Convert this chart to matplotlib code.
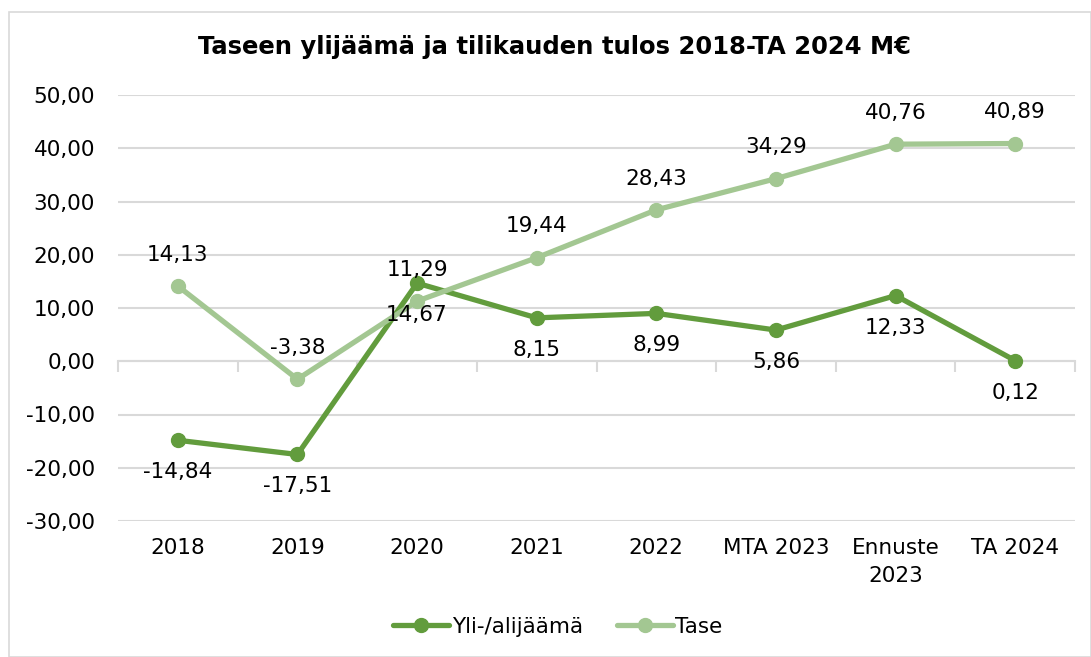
import matplotlib
matplotlib.use("Agg")
import matplotlib.pyplot as plt
import matplotlib.transforms as mtransforms
from matplotlib.patches import Rectangle

kategoriat = ["2018", "2019", "2020", "2021", "2022", "MTA 2023", "Ennuste\n2023", "TA 2024"]
yli_alijaama = [-14.84, -17.51, 14.67, 8.15, 8.99, 5.86, 12.33, 0.12]
tase = [14.13, -3.38, 11.29, 19.44, 28.43, 34.29, 40.76, 40.89]
y_ticks = [-30, -20, -10, 0, 10, 20, 30, 40, 50]

TUMMA = "#629C3D"
VAALEA = "#A3C792"
HARMAA = "#D9D9D9"
FS = 15.5


def fi(v):
    return f"{v:.2f}".replace(".", ",")


W, H = 1091, 657
fig = plt.figure(figsize=(W / 100, H / 100), dpi=100)
fig.patches.append(Rectangle((9 / W, 0), 1 - 9 / W, 1 - 12 / H, transform=fig.transFigure,
                             fill=False, edgecolor=HARMAA, linewidth=1.2))

ax = fig.add_axes([118 / W, 1 - 521 / H, (1075 - 118) / W, (521 - 95) / H])
x = list(range(len(kategoriat)))

ax.set_xlim(-0.5, len(kategoriat) - 0.5)
ax.set_ylim(-30, 50)
ax.set_yticks(y_ticks)
ax.set_yticklabels([fi(v) for v in y_ticks], fontsize=FS, color="#000000")
ax.tick_params(axis="y", length=0, pad=16.5)
ax.grid(axis="y", color=HARMAA, linewidth=1.5, zorder=0)
for s in ["top", "right", "left"]:
    ax.spines[s].set_visible(False)
ax.spines["bottom"].set_position(("data", 0))
ax.spines["bottom"].set_color(HARMAA)
ax.spines["bottom"].set_linewidth(1.5)
ax.set_xticks([i - 0.5 for i in range(len(kategoriat) + 1)])
ax.set_xticklabels([])
ax.tick_params(axis="x", length=8, width=1.5, color=HARMAA, direction="out")

trans = mtransforms.blended_transform_factory(ax.transData, ax.transAxes)
for i, k in enumerate(kategoriat):
    ax.text(i, -0.040, k, transform=trans, ha="center", va="top", fontsize=FS,
            color="#000000", linespacing=1.5)

ax.plot(x, yli_alijaama, color=TUMMA, linewidth=3.8, marker="o", markersize=10,
        solid_capstyle="round", label="Yli-/alijäämä", zorder=3)
ax.plot(x, tase, color=VAALEA, linewidth=3.8, marker="o", markersize=10,
        solid_capstyle="round", label="Tase", zorder=3)

for i, v in enumerate(yli_alijaama):
    ax.annotate(fi(v), (i, v), xytext=(0, -23), textcoords="offset points",
                ha="center", va="center", fontsize=FS, color="#000000", zorder=5)
for i, v in enumerate(tase):
    ax.annotate(fi(v), (i, v), xytext=(0, 22.5), textcoords="offset points",
                ha="center", va="center", fontsize=FS, color="#000000", zorder=5)

fig.text(555 / W, 1 - 47 / H, "Taseen ylijäämä ja tilikauden tulos 2018-TA 2024 M€",
         ha="center", va="center", fontsize=17.5, fontweight="bold", color="#000000")

fig.legend(loc="center", bbox_to_anchor=(558 / W, 1 - 627 / H), ncol=2, frameon=False,
           fontsize=FS, handlelength=2.6, columnspacing=1.6, handletextpad=0.1)

fig.savefig("out.png", dpi=100)
